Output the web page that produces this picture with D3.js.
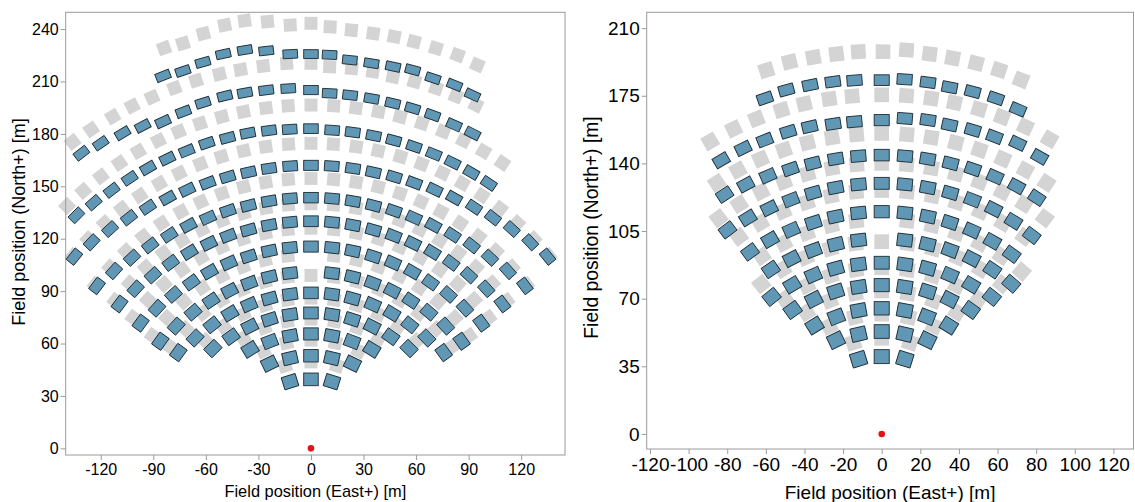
<!DOCTYPE html>
<html><head><meta charset="utf-8">
<script src="https://cdn.jsdelivr.net/npm/d3@7/dist/d3.min.js"></script>
<style>
body{margin:0;background:#fff}
svg text{font-family:"Liberation Sans",Arial,sans-serif;fill:#000}
</style>
</head><body>
<svg id="c" width="1135" height="502"></svg>
<script>
// ---------- Field A (left) : blue = heliostats, grey = reference layout ----------
// azimuth in degrees (East of North), radius in metres from the tower
const aBlueAz = [
 [-17.4,0,17.4],
 [-26,-13,0,13,26],
 [-31.5,-21,-10.5,0,10.5,21,31.5],
 [-44.4,-35.5,-26.6,-17.7,-8.9,0,8.9,17.7,26.6,35.5,44.4],
 [-54.1,-46.3,-38.6,-30.9,-23.2,-15.4,-7.7,0,7.7,15.4,23.2,30.9,38.6,46.3,54.1],
 [-54.5,-47.7,-40.8,-34,-27.2,-20.4,-13.6,-6.8,6.8,13.6,20.4,27.2,34,40.8,47.7,54.5],
 [-53.6,-47.6,-41.7,-35.7,-29.8,-23.8,-17.9,-11.9,-6,0,6,11.9,17.9,23.8,29.8,35.7,41.7,47.6,53.6],
 [-52.9,-47.6,-42.3,-37,-31.7,-26.4,-21.2,-15.9,-10.6,-5.3,0,5.3,10.6,15.9,21.2,26.4,31.7,37,42.3,47.6,52.9],
 [-52.7,-47.9,-43.1,-38.3,-33.5,-28.7,-24,-19.2,-14.4,-9.6,-4.8,0,4.8,9.6,14.4,19.2,24,28.7,33.5,38.3,43.1,47.9,52.7],
 [-50.9,-46.7,-42.4,-38.2,-34,-29.7,-25.5,-21.2,-17,-12.7,-8.5,-4.2,0,4.2,8.5,12.7,17,21.2,25.5,29.7,34,38.2,42.4,46.7,50.9],
 [-45.1,-41.4,-37.6,-33.8,-30.1,-26.3,-22.6,-18.8,-15,-11.3,-7.5,-3.8,0,3.8,7.5,11.3,15,18.8,22.6,26.3,30.1,33.8],
 [-37.8,-34.5,-30.8,-27.5,-24.3,-20.7,-17.3,-13.7,-10.5,-7.1,-3.6,0,3.0,6.3,9.8,13.3,16.6,20.0,23.8,27.1],
 [-21.6,-18.7,-15.6,-12.5,-9.4,-6.4,-3,0,2.7,5.7,8.9,12.1,15,18.2,21.5,24.5]
];
const aBlueR = [
 [40,39.5,40],
 [54,53,53,53,54],
 [66.5,65.5,65.5,65.5,65.5,65.5,66.5],
 [80,78.5,78,77.5,77.5,77.5,77.5,77.5,78,78.5,80],
 [93.5,91.5,90.5,90,89.5,89,89,89,89,89,89.5,90,90.5,91.5,93.5],
 [105.6,104,103,102,101.5,101,101,101,101,101,101,101.5,102,103,104,105.6],
 [120.8,119,118,117,116.5,116,115.5,115.5,115.5,115.5,115.5,115.5,115.5,116,116.5,117,118,119,120.8],
 [137,135.5,134,133,132,131,130.5,130,130,130,130,130,130,130,130.5,131,132,133,134,135.5,137],
 [153.5,151.5,149.5,148,146.5,145.5,144.5,144,143.5,143.5,143.5,143.5,143.5,143.5,143.5,144,144.5,145.5,146.5,148,149.5,151.5,153.5],
 [174,172,170,168,166.5,165,164,163,162.5,162,162,162,162,162,162,162,162.5,163,164,165,166.5,168,170,172,174],
 [189,187.5,186.5,186,185.5,185,184.5,184.5,184,184,183.5,183,183,182.5,182.5,182.5,182.5,182.5,182.5,182.5,182.5,182.5],
 [213.8,211.9,210,208,205.2,206,207.2,207.6,207,206.6,206.4,205.1,203.5,203.4,203.2,203,203.1,203,202.4,202.5],
 [229.3,228,229.4,231.2,231.1,229,226,225.7,225.5,223.4,223.1,223.5,224.3,223,223.6,222.3]
];
const aGrayAz = [
 ...aBlueAz.slice(0, 11),
 [-37.8,-34.5,-30.8,-27.5,-24.3,-20.7,-17.3,-13.7,-10.5,-7.1,-3.6,0,2.8,6.1,9.3,12.4,15.7,19.1,22.3,25.6],
 [-20.1,-17.5,-14.5,-11.5,-8.8,-5.8,-2.8,0,2.6,5.5,8.5,11.4,14.2,17.3,20.4,23.4]
];
const aGrayR = [
 49.5, 62, 74, 86, 99, 111, 126, 140, 154.5, 174.6, 196.5,
 [222,221.5,221,221,220.5,220.5,220.5,220.5,220.5,220.5,220.8,220.4,218.7,218.7,218.5,217.8,218.1,218.2,217.9,217.9],
 [244,243,245.2,247.2,247.7,245.5,242.6,243.3,241.5,240.5,240.1,240.4,240.1,239.9,240.2,239.1]
];
const aXTicks = [-120,-90,-60,-30,0,30,60,90,120];
const aYTicks = [0,30,60,90,120,150,180,210,240];

// ---------- Field B (right) ----------
const bBlueAz = [
 [-17.2,0,17.2],
 [-26,-13,0,13,26],
 [-31.8,-21.2,-10.6,0,10.6,21.2,31.8],
 [-35.7,-26.8,-17.9,-8.9,0,8.9,17.9,26.8,35.7],
 [-38.8,-31,-23.3,-15.5,-7.8,0,7.8,15.5,23.3,31,38.8],
 [-34,-27.2,-20.4,-13.6,-6.8,6.8,13.6,20.4,27.2,34,40.8],
 [-35.9,-29.9,-23.9,-17.9,-12,-6,0,6,12,17.9,23.9,29.9,35.9],
 [-37.1,-31.8,-26.5,-21.2,-15.9,-10.6,-5.3,0,5.3,10.6,15.9,21.2,26.5,31.8,37.1],
 [-33.3,-28.6,-23.8,-19,-14.3,-9.5,-4.8,0,4.8,9.5,14.3,19,23.8,28.6,33.3],
 [-30.4,-25.9,-21.7,-17.2,-13.2,-8.9,-5,0,4.2,8.4,12.4,16.7,20.8,25.1,29.7],
 [-19.2,-15.5,-11.6,-7.9,-4.4,0,3.7,7.5,11.1,14.9,18.8,22.8]
];
const bBlueR = [
 [40.5,40,40.5],
 [54,53,53,53,54],
 [66,65,65,65,65,65,66],
 [79,78,77.5,77,77,77,77.5,78,79],
 [91,90,89.5,89,88.6,88.6,88.6,89,89.5,90,91],
 [102.7,102,101.5,101,101,101,101,101.5,102,102.5,102.7],
 [116.3,116,115.5,115,115,115,115,115,115,115,115.2,115,114.8],
 [132.4,131.5,130.5,130,129.7,129.7,129.7,129.7,129.7,129.7,129.7,130,130,129.5,128.8],
 [148.2,147,146,145,144.5,144.3,144.3,144.3,144.3,144.3,144.5,145,145.5,146,146.3],
 [164.2,164.3,163.7,163.7,163.3,162.4,162.2,162.4,163.7,164.2,163.7,164.2,164.5,166.1,165.1],
 [183.9,184.7,184.3,184,183.5,183.1,183.9,183.5,182.8,183.3,183.5,182.2]
];
const bGrayAz = [
 ...bBlueAz.slice(0, 10),
 [-17.6,-13.9,-10.3,-6.8,-3.5,0.2,3.7,7.2,10.7,14.3,17.9,21.5]
];
const bGrayR = [
 49.5, 62, 74, 86, 99.5, 111, 126, 140, 155.5, 175.5,
 [197.5,198.4,198.1,198,198.2,197.8,199.1,198.2,197.9,198,197.9,196.9]
];
const bXTicks = [-120,-100,-80,-60,-40,-20,0,20,40,60,80,100,120];
const bYTicks = [0,35,70,105,140,175,210];

const svg = d3.select("#c");

function flatten(azs, rs){
  const out = [];
  azs.forEach((ring, i) => ring.forEach((a, j) => {
    const r = Array.isArray(rs[i]) ? rs[i][j] : rs[i];
    const t = a * Math.PI / 180;
    out.push({a, r, e: r * Math.sin(t), n: r * Math.cos(t)});
  }));
  return out;
}

function panel(o){
  const x = d3.scaleLinear().domain(o.xDom).range(o.xRange);
  const y = d3.scaleLinear().domain(o.yDom).range(o.yRange);
  const k = x(1) - x(0);
  const g = svg.append("g");

  const gray = flatten(o.grayAz, o.grayR);
  const blue = flatten(o.blueAz, o.blueR);
  const gs = o.graySize * k;

  g.append("g").selectAll("rect").data(gray).join("rect")
    .attr("x", -gs/2).attr("y", -gs/2).attr("width", gs).attr("height", gs)
    .attr("fill", "#d4d4d4")
    .attr("transform", d => `translate(${x(d.e)},${y(d.n)}) rotate(${d.a})`);

  g.append("g").selectAll("rect").data(blue).join("rect")
    .attr("x", -o.blueW*k/2)
    .attr("y", d => -(o.depth0 - o.depthK*d.r)*k/2)
    .attr("width", o.blueW*k)
    .attr("height", d => (o.depth0 - o.depthK*d.r)*k)
    .attr("fill", "#5f97b5").attr("stroke", "#1e2b33").attr("stroke-width", 0.9)
    .attr("transform", d => `translate(${x(d.e)},${y(d.n)}) rotate(${d.a})`);

  g.append("circle").attr("cx", x(0)).attr("cy", y(0)).attr("r", 3.3).attr("fill", "#e3131b");

  const ax = g.append("g").attr("transform", `translate(0,${o.yRange[0]})`)
    .call(d3.axisBottom(x).tickValues(o.xTicks).tickSize(5).tickPadding(o.xPad).tickSizeOuter(0).tickFormat(d => String(d)));
  const ay = g.append("g").attr("transform", `translate(${o.xRange[0]},0)`)
    .call(d3.axisLeft(y).tickValues(o.yTicks).tickSize(5).tickPadding(2).tickSizeOuter(0).tickFormat(d => String(d)));
  [ax, ay].forEach(a => {
    a.attr("font-family", null).attr("font-size", null);
    a.select(".domain").remove();
    a.selectAll(".tick line").attr("stroke", "#9a9a9a");
    a.selectAll("text").style("font-size", o.tickFont + "px").attr("fill", "#000");
  });

  g.append("rect").attr("x", o.xRange[0]).attr("y", o.yRange[1])
    .attr("width", o.xRange[1]-o.xRange[0]).attr("height", o.yRange[0]-o.yRange[1])
    .attr("fill", "none").attr("stroke", "#9a9a9a").attr("stroke-width", 1);

  g.append("text").attr("x", (o.xRange[0]+o.xRange[1])/2).attr("y", o.xTitleY)
    .attr("text-anchor", "middle").style("font-size", o.xTitleFont + "px")
    .text("Field position (East+) [m]");
  g.append("text").attr("transform", `translate(${o.yTitleX},${o.yTitleCY}) rotate(-90)`)
    .attr("text-anchor", "middle").style("font-size", o.yTitleFont + "px")
    .text("Field position (North+) [m]");
}

panel({
  xDom: [-140, 145], xRange: [65.7, 565],
  yDom: [-3.8, 249.6], yRange: [455, 12.3],
  blueAz: aBlueAz, blueR: aBlueR, grayAz: aGrayAz, grayR: aGrayR,
  blueW: 8.3, depth0: 7.7, depthK: 0.012, graySize: 7.4,
  xTicks: aXTicks, yTicks: aYTicks, xPad: 4, tickFont: 16,
  xTitleY: 497, xTitleFont: 16.4, yTitleX: 24.5, yTitleCY: 222, yTitleFont: 18
});
panel({
  xDom: [-121.7, 130.4], xRange: [646.7, 1133.5],
  yDom: [-7.8, 218.2], yRange: [449, 12.3],
  blueAz: bBlueAz, blueR: bBlueR, grayAz: bGrayAz, grayR: bGrayR,
  blueW: 7.8, depth0: 7.7, depthK: 0.012, graySize: 7.6,
  xTicks: bXTicks, yTicks: bYTicks, xPad: 4, tickFont: 19,
  xTitleY: 498.5, xTitleFont: 19, yTitleX: 597.5, yTitleCY: 227.5, yTitleFont: 19.3
});
</script>
</body></html>
